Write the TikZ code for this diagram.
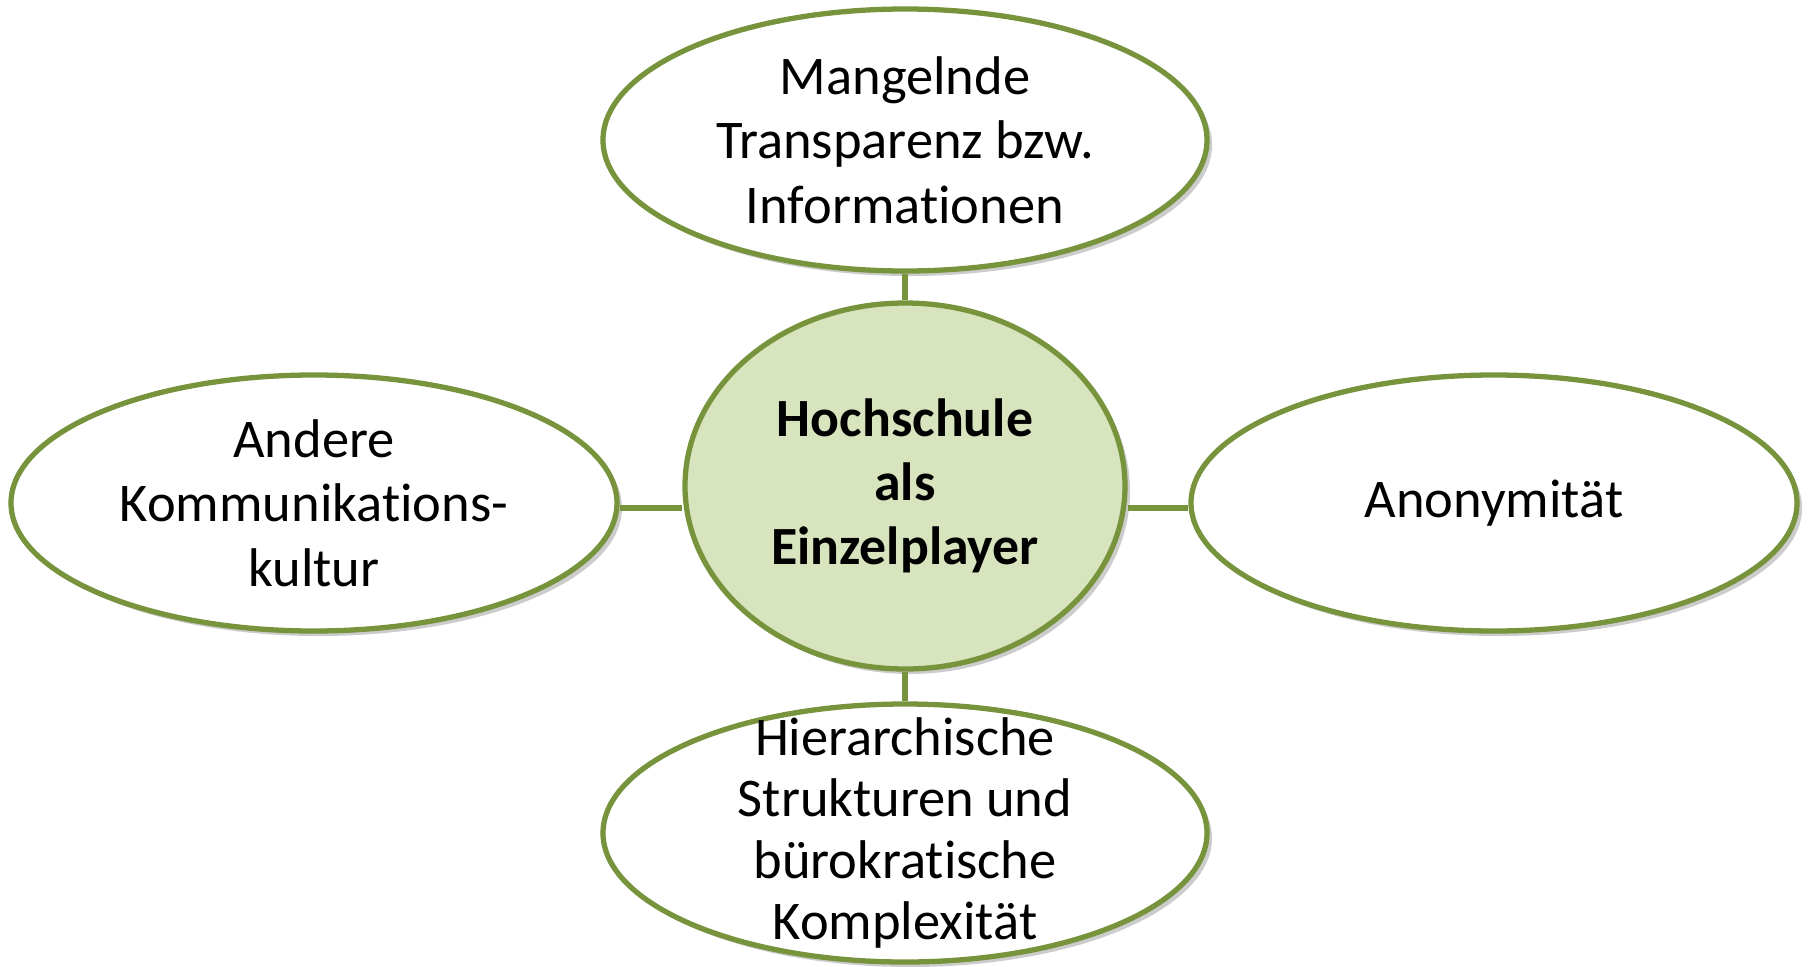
\documentclass[tikz,border=0pt]{standalone}
\usepackage{fontspec}
\setmainfont{Carlito}[Ligatures={TeX,NoCommon}]
\usetikzlibrary{shapes.geometric, shadows}

\definecolor{olive}{HTML}{77933C}
\definecolor{lightolive}{HTML}{D7E4BD}

\tikzset{
  bubble/.style={ellipse, draw=olive, line width=1.5pt, fill=white,
    inner xsep=0pt, inner ysep=-0.7cm,
    align=center, font=\fontsize{15.5}{18.3}\selectfont,
    drop shadow={fill=black, opacity=0.2, shadow xshift=0.05cm, shadow yshift=-0.05cm}},
  core/.style={bubble, fill=lightolive, font=\fontsize{15.3}{18.3}\selectfont\bfseries},
  link/.style={draw=olive, line width=1.5pt}
}

\begin{document}
\begin{tikzpicture}
\useasboundingbox (0,0) rectangle (18.08,9.66);
\node[core, minimum width=4.40cm, minimum height=3.66cm] (mid) at (9.05,4.80) {Hochschule\\als\\Einzelplayer};
\node[bubble, minimum width=6.04cm, minimum height=2.62cm] (top) at (9.05,8.26) {Mangelnde\\Transparenz bzw.\\Informationen};
\node[bubble, minimum width=6.06cm, minimum height=2.56cm] (left) at (3.14,4.63) {Andere\\Kommunikations-\\kultur};
\node[bubble, minimum width=6.06cm, minimum height=2.56cm] (right) at (14.94,4.63) {Anonymität};
\node[bubble, minimum width=6.04cm, minimum height=2.58cm, font=\fontsize{15.5}{17.5}\selectfont] (bottom) at (9.05,1.33) {\vspace*{0.16cm}Hierarchische\\Strukturen und\\bürokratische\\Komplexität};
% connectors
\draw[link] (top) -- (mid);
\draw[link] (mid) -- (bottom);
\draw[link] ([yshift=-0.05cm]left.east) -- ([yshift=-0.05cm]left.east -| mid.west);
\draw[link] ([yshift=-0.05cm]right.west) -- ([yshift=-0.05cm]right.west -| mid.east);
\end{tikzpicture}
\end{document}
